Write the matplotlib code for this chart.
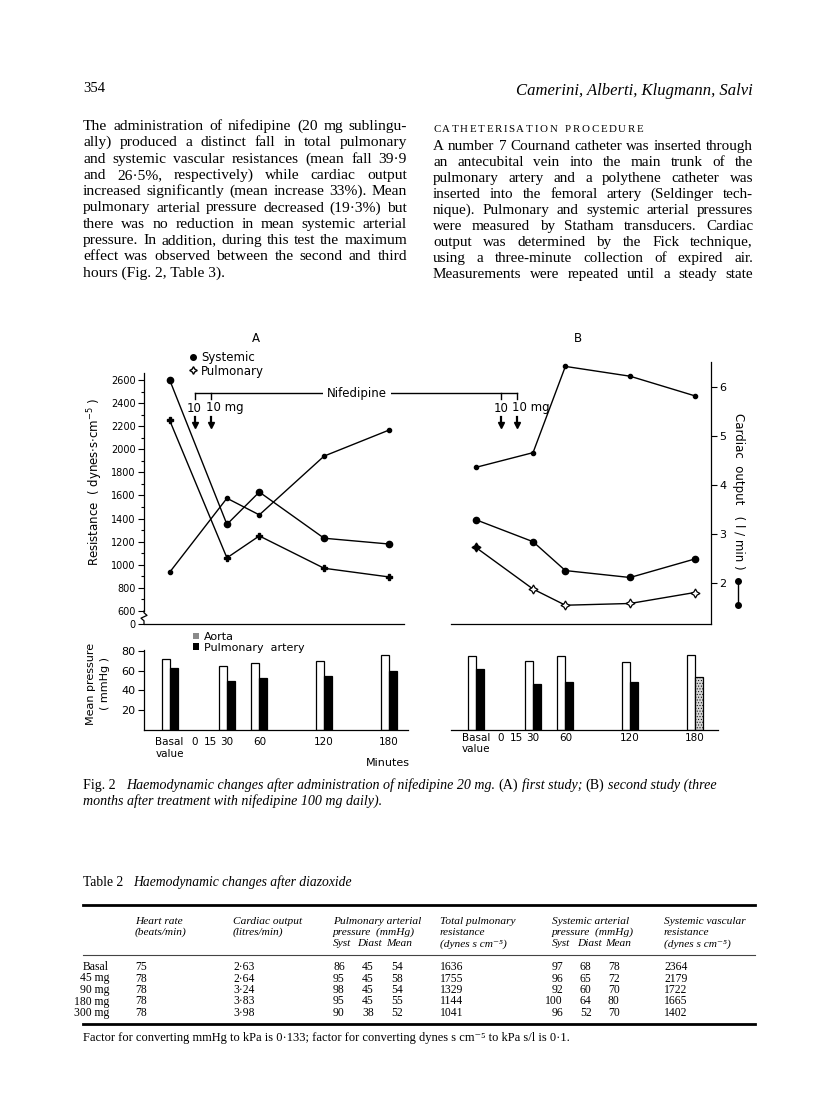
import matplotlib
matplotlib.use("Agg")
import matplotlib.pyplot as plt
from matplotlib.lines import Line2D
from matplotlib.patches import Patch
from matplotlib.transforms import blended_transform_factory

W, H = 816, 1115
SERIF = ["Liberation Serif", "DejaVu Serif"]
SANS = "DejaVu Sans"

# ---- figure data -------------------------------------------------------
# minutes after the first dose; the basal value sits left of zero
times = [-23, 30, 60, 120, 180]
tick_pos = [-23, 0, 15, 30, 60, 120, 180]
tick_labels = ["Basal\nvalue", "0", "15", "30", "60", "120", "180"]
dose_times = [0, 15]

# panel A: first study
a_systemic = [2600, 1350, 1630, 1230, 1180]
a_pulmonary = [2250, 1060, 1250, 970, 895]
a_cardiac = [2.22, 3.73, 3.39, 4.59, 5.12]
a_aorta = [72, 65, 68, 70, 76]
a_pulm_artery = [63, 50, 53, 55, 60]

# panel B: second study
b_systemic = [1390, 1200, 950, 890, 1050]
b_pulmonary = [1150, 790, 650, 665, 760]
b_cardiac = [4.36, 4.66, 6.42, 6.22, 5.82]
b_aorta = [75, 70, 75, 69, 76]
b_pulm_artery = [62, 47, 49, 49, 54]

res_ticks = [600, 800, 1000, 1200, 1400, 1600, 1800, 2000, 2200, 2400, 2600]
co_ticks = [2, 3, 4, 5, 6]
p_ticks = [20, 40, 60, 80]

# ---- table data --------------------------------------------------------
row_names = ["Basal", "45 mg", "90 mg", "180 mg", "300 mg"]
heart_rate = ["75", "78", "78", "78", "78"]
cardiac_output = ["2·63", "2·64", "3·24", "3·83", "3·98"]
pa_syst = ["86", "95", "98", "95", "90"]
pa_diast = ["45", "45", "45", "45", "38"]
pa_mean = ["54", "58", "54", "55", "52"]
tpr = ["1636", "1755", "1329", "1144", "1041"]
sa_syst = ["97", "96", "92", "100", "96"]
sa_diast = ["68", "65", "60", "64", "52"]
sa_mean = ["78", "72", "70", "80", "70"]
svr = ["2364", "2179", "1722", "1665", "1402"]

# ---- page text ---------------------------------------------------------
left_col = [
    "The administration of nifedipine (20 mg sublingu-",
    "ally) produced a distinct fall in total pulmonary",
    "and systemic vascular resistances (mean fall 39·9",
    "and 26·5%, respectively) while cardiac output",
    "increased significantly (mean increase 33%). Mean",
    "pulmonary arterial pressure decreased (19·3%) but",
    "there was no reduction in mean systemic arterial",
    "pressure. In addition, during this test the maximum",
    "effect was observed between the second and third",
    "hours (Fig. 2, Table 3).",
]
right_col = [
    "A number 7 Cournand catheter was inserted through",
    "an antecubital vein into the main trunk of the",
    "pulmonary artery and a polythene catheter was",
    "inserted into the femoral artery (Seldinger tech-",
    "nique). Pulmonary and systemic arterial pressures",
    "were measured by Statham transducers. Cardiac",
    "output was determined by the Fick technique,",
    "using a three-minute collection of expired air.",
    "Measurements were repeated until a steady state",
]

plt.rcParams["font.family"] = SANS
plt.rcParams["hatch.linewidth"] = 0.4
plt.rcParams["axes.linewidth"] = 0.9

fig = plt.figure(figsize=(W / 100, H / 100), dpi=100)
renderer = fig.canvas.get_renderer()


def box(left, top, right, bottom):
    return [left / W, 1 - bottom / H, (right - left) / W, (bottom - top) / H]


def put(x, y, s, **kw):
    kw.setdefault("va", "center")
    return fig.text(x / W, 1 - y / H, s, **kw)


def width(s, **kw):
    t = put(0, 0, s, **kw)
    w = t.get_window_extent(renderer).width
    t.remove()
    return w


def fit_size(lines, span, base=10.0):
    return base * min(span / width(l, fontsize=base, family=SERIF) for l in lines)


def justify(lines, x0, x1, y0, step, size, last_ragged=True):
    kw = dict(fontsize=size, family=SERIF, va="baseline")
    for i, line in enumerate(lines):
        y = y0 + i * step
        words = line.split()
        if last_ragged and i == len(lines) - 1:
            put(x0, y, line, **kw)
            continue
        ws = [width(w, **kw) for w in words]
        gap = (x1 - x0 - sum(ws)) / (len(words) - 1)
        x = x0
        for w, wd in zip(words, ws):
            put(x, y, w, **kw)
            x += wd + gap


def tracked(x0, x1, y, s, size):
    kw = dict(fontsize=size, family=SERIF, va="baseline")
    chars = list(s)
    ws = [width(c, **kw) if c != " " else size * 0.6 for c in chars]
    track = (x1 - x0 - sum(ws)) / (len(chars) - 1)
    x = x0
    for c, wd in zip(chars, ws):
        if c != " ":
            put(x, y, c, **kw)
        x += wd + track


def run(x, y, parts, size):
    sp = width("a a", fontsize=size, family=SERIF) - width("aa", fontsize=size, family=SERIF)
    for s, style, gap in parts:
        kw = dict(fontsize=size, family=SERIF, fontstyle=style, va="baseline")
        put(x, y, s, **kw)
        x += width(s, **kw) + sp * gap


# ---- page header and columns ------------------------------------------
put(83, 89, "354", fontsize=10.5, family=SERIF)
put(753, 91, "Camerini, Alberti, Klugmann, Salvi", fontsize=12, family=SERIF,
    fontstyle="italic", ha="right")
justify(left_col, 83, 407, 130, 16.3, min(fit_size(left_col[:-1], 324) * 0.98, 11.6))
tracked(433, 643, 131.5, "CATHETERISATION PROCEDURE", 7.8)
justify(right_col, 433, 753, 150, 16.0, fit_size(right_col, 320) * 0.99, last_ragged=False)

# ---- top panels: resistance and cardiac output -------------------------
ax_a = fig.add_axes(box(144, 373, 404, 624))
ax_a.set_xlim(-46.8, 194)
ax_a.set_ylim(487.4, 2660.6)
ax_ac = ax_a.twinx()
ax_ac.set_ylim(1.163, 6.286)

ax_b = fig.add_axes(box(451, 362, 711, 624))
ax_b.set_xlim(-46.1, 195.1)
ax_b.set_ylim(487.4, 2755.8)
ax_bc = ax_b.twinx()
ax_bc.set_ylim(1.163, 6.51)

for ax in (ax_a, ax_ac, ax_b, ax_bc):
    ax.patch.set_visible(False)
    for side in ("top", "right", "left", "bottom"):
        ax.spines[side].set_visible(False)
    ax.set_xticks([])
    ax.set_yticks([])

ax_a.spines["bottom"].set_visible(True)
ax_b.spines["bottom"].set_visible(True)

# left resistance axis with a break above zero
ax_a.spines["left"].set_visible(True)
ax_a.spines["left"].set_bounds(600, 2660.6)
ax_a.set_yticks([487.4] + res_ticks)
ax_a.set_yticklabels(["0"] + [str(v) for v in res_ticks])
ax_a.set_yticks(list(range(700, 2600, 200)), minor=True)
ax_a.tick_params(axis="y", which="major", length=4, width=0.8, labelsize=7, pad=2)
ax_a.tick_params(axis="y", which="minor", length=2.5, width=0.8)
brk = blended_transform_factory(ax_a.transAxes, ax_a.transData)
d = 3 / 260
ax_a.plot([0, 0, d, -d, 0, 0], [600, 585, 562, 538, 515, 487.4], color="k",
          lw=0.9, transform=brk, clip_on=False)

# right cardiac output axis (panel B)
ax_bc.spines["right"].set_visible(True)
ax_bc.set_yticks(co_ticks)
ax_bc.tick_params(axis="y", length=4, width=0.8, labelsize=8, pad=2)

line_kw = dict(color="k", lw=1.0, clip_on=False)
ax_a.plot(times, a_systemic, marker="o", ms=4.5, **line_kw)
ax_a.plot(times, a_pulmonary, marker="P", ms=5, **line_kw)
ax_ac.plot(times, a_cardiac, marker="o", ms=3, **line_kw)

ax_b.plot(times, b_systemic, marker="o", ms=4.5, **line_kw)
ax_b.plot(times, b_pulmonary, marker=(4, 1, 0), ms=6.5, mfc="white", mew=0.9, **line_kw)
ax_b.plot(times[:1], b_pulmonary[:1], marker="P", ms=5, color="k", ls="none", clip_on=False)
ax_bc.plot(times, b_cardiac, marker="o", ms=3, **line_kw)

# nifedipine bracket spanning both studies
y_br = 393
xa = [ax_a.transData.transform((t, 1000))[0] for t in dose_times]
xb = [ax_b.transData.transform((t, 1000))[0] for t in dose_times]
fig.add_artist(Line2D([xa[0] / W, xb[1] / W], [1 - y_br / H] * 2, color="k", lw=1.0))
for x in xa + xb:
    fig.add_artist(Line2D([x / W] * 2, [1 - y_br / H, 1 - (y_br + 6) / H], color="k", lw=1.0))
    fig.add_artist(Line2D([x / W] * 2, [1 - 417 / H, 1 - 424 / H], color="k", lw=1.6))
    fig.add_artist(Line2D([x / W], [1 - 425 / H], marker="v", ms=5, color="k"))
for xs in (xa, xb):
    put(xs[0], 408, "10", fontsize=8.5, ha="center")
    put(xs[1] - 5, 408, "10 mg", fontsize=8.5, ha="left")
put(357, y_br, "Nifedipine", fontsize=8.5, ha="center",
    bbox=dict(facecolor="white", edgecolor="none", pad=3))

put(256, 338, "A", fontsize=8.5, ha="center")
put(578, 338, "B", fontsize=8.5, ha="center")

handles = [Line2D([], [], marker="o", color="k", ls="none", ms=4),
           Line2D([], [], marker=(4, 1, 0), color="k", mfc="white", ls="none", ms=5.5)]
ax_a.legend(handles, ["Systemic", "Pulmonary"], loc="upper left",
            bbox_to_anchor=(189 / W, 1 - 351 / H), bbox_transform=fig.transFigure,
            frameon=False, fontsize=8.5, handlelength=0.6, handletextpad=0.4,
            labelspacing=0.05, borderpad=0, borderaxespad=0)

put(95, 482, r"Resistance  ( dynes$\cdot$s$\cdot$cm$^{-5}$ )", fontsize=8.5,
    rotation=90, ha="center")
put(738, 491, "Cardiac  output   ( l / min )", fontsize=8.5, rotation=-90, ha="center")
fig.add_artist(Line2D([738 / W] * 2, [1 - 581 / H, 1 - 605 / H], color="k", lw=1.0,
                      marker="o", ms=4))

# ---- bottom panels: mean pressures -------------------------------------
bw = 7.4
ax_pa = fig.add_axes(box(144, 650, 408, 730))
ax_pa.set_xlim(-46.8, 197.7)
ax_pb = fig.add_axes(box(451, 650, 718, 730))
ax_pb.set_xlim(-46.1, 201.6)

for ax, aorta, pa in ((ax_pa, a_aorta, a_pulm_artery), (ax_pb, b_aorta, b_pulm_artery)):
    ax.set_ylim(0, 81)
    ax.patch.set_visible(False)
    ax.spines["top"].set_visible(False)
    ax.spines["right"].set_visible(False)
    ax.bar(times, aorta, width=-bw, align="edge", facecolor="white", edgecolor="k", lw=0.9)
    bars = ax.bar(times, pa, width=bw, align="edge", facecolor="k", edgecolor="k", lw=0.9)
    ax.set_xticks(tick_pos)
    ax.set_xticklabels(tick_labels, fontsize=7.5, multialignment="left")
    ax.tick_params(axis="x", length=0, pad=5)

bars[-1].set_facecolor("#d4d4d4")
bars[-1].set_hatch("......")

ax_pa.set_yticks(p_ticks)
ax_pa.tick_params(axis="y", length=4, width=0.8, labelsize=8, pad=2)
ax_pb.spines["left"].set_visible(False)
ax_pb.set_yticks([])
ax_pb.tick_params(axis="x", pad=2)

ax_pa.legend([Patch(facecolor="#8a8a8a", edgecolor="none"), Patch(facecolor="k")],
             ["Aorta", "Pulmonary  artery"], loc="upper left",
             bbox_to_anchor=(193 / W, 1 - 632 / H), bbox_transform=fig.transFigure,
             frameon=False, fontsize=8, handlelength=0.55, handleheight=0.55,
             handletextpad=0.4, labelspacing=0.05, borderpad=0, borderaxespad=0)

put(98, 684, "Mean pressure\n( mmHg )", fontsize=8, rotation=90, ha="center",
    linespacing=1.5)
put(388, 763, "Minutes", fontsize=8, ha="center")

# ---- caption -----------------------------------------------------------
run(83, 789, [("Fig. 2", "normal", 3),
              ("Haemodynamic changes after administration of nifedipine 20 mg.", "italic", 1),
              ("(A)", "normal", 1), ("first study;", "italic", 1),
              ("(B)", "normal", 1), ("second study (three", "italic", 0)], 10.1)
run(83, 805, [("months after treatment with nifedipine 100 mg daily).", "italic", 0)], 10.1)

# ---- table -------------------------------------------------------------
run(83, 886, [("Table 2", "normal", 3),
              ("Haemodynamic changes after diazoxide", "italic", 0)], 9.8)

fig.add_artist(Line2D([83 / W, 755 / W], [1 - 905 / H] * 2, color="k", lw=2.0))
fig.add_artist(Line2D([83 / W, 755 / W], [1 - 955 / H] * 2, color="#444444", lw=0.8))
fig.add_artist(Line2D([83 / W, 755 / W], [1 - 1024 / H] * 2, color="k", lw=2.0))

hkw = dict(fontsize=8.2, family=SERIF, fontstyle="italic")
headers = [
    (135, ["Heart rate", "(beats/min)"]),
    (233, ["Cardiac output", "(litres/min)"]),
    (333, ["Pulmonary arterial", "pressure  (mmHg)"]),
    (440, ["Total pulmonary", "resistance", "(dynes s cm⁻⁵)"]),
    (552, ["Systemic arterial", "pressure  (mmHg)"]),
    (664, ["Systemic vascular", "resistance", "(dynes s cm⁻⁵)"]),
]
for x, lines in headers:
    for i, s in enumerate(lines):
        put(x, 921 + 11.5 * i, s, **hkw)
for x, s in [(333, "Syst"), (357, "Diast"), (386, "Mean"),
             (552, "Syst"), (577, "Diast"), (605, "Mean")]:
    put(x, 944, s, **hkw)

bkw = dict(fontsize=8.4, family=SERIF)
cols = [(135, heart_rate, "left"), (233, cardiac_output, "left"),
        (333, pa_syst, "left"), (362, pa_diast, "left"), (391, pa_mean, "left"),
        (440, tpr, "left"), (563, sa_syst, "right"), (580, sa_diast, "left"),
        (608, sa_mean, "left"), (664, svr, "left")]
for i, name in enumerate(row_names):
    y = 967 + 11.5 * i
    if i == 0:
        put(83, y, name, ha="left", **bkw)
    else:
        put(109, y, name, ha="right", **bkw)
    for x, vals, ha in cols:
        put(x, y, vals[i], ha=ha, **bkw)

put(83, 1038, "Factor for converting mmHg to kPa is 0·133; factor for converting "
    "dynes s cm⁻⁵ to kPa s/l is 0·1.", fontsize=9, family=SERIF)

fig.savefig("out.png", dpi=100)
